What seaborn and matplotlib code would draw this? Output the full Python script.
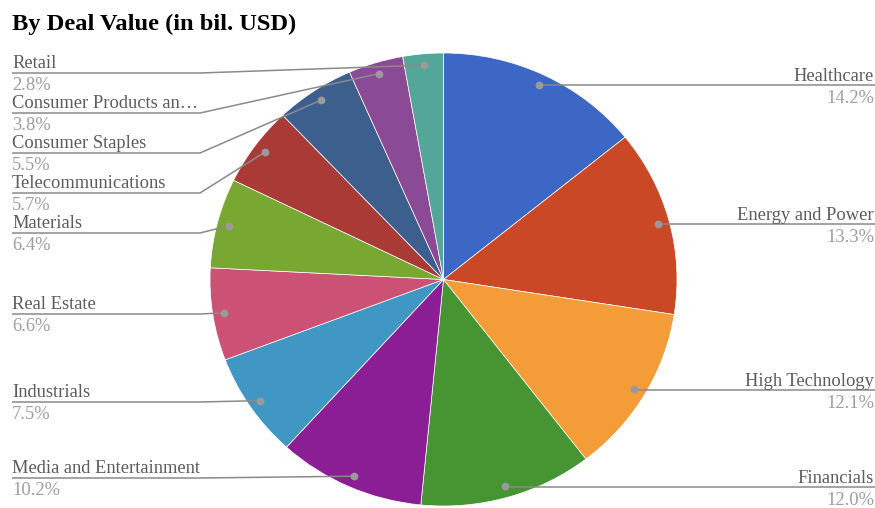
import matplotlib
matplotlib.use("Agg")
import matplotlib.pyplot as plt
import seaborn as sns
import numpy as np

categories = ["Healthcare", "Energy and Power", "High Technology", "Financials",
              "Media and Entertainment", "Industrials", "Real Estate", "Materials",
              "Telecommunications", "Consumer Staples", "Consumer Products an\u2026", "Retail"]
shares = [14.2, 13.3, 12.1, 12.0, 10.2, 7.5, 6.6, 6.4, 5.7, 5.5, 3.8, 2.8]
pct_labels = ["14.2%", "13.3%", "12.1%", "12.0%", "10.2%", "7.5%", "6.6%", "6.4%",
              "5.7%", "5.5%", "3.8%", "2.8%"]
slice_colors = ["#3c67c5", "#cb4827", "#f39c38", "#479432", "#8b1e95", "#4197c4",
                "#cc5275", "#78a832", "#a93a36", "#3d5f8e", "#8b4a95", "#53a698"]
title = "By Deal Value (in bil. USD)"

# layout: label line y (pixels) and side
label_side = ["R", "R", "R", "R", "L", "L", "L", "L", "L", "L", "L", "L"]
label_line_y = [85, 224, 390, 487, 478, 402, 314, 233, 193, 153, 113, 73]

sns.set_theme(style="white")
plt.rcParams["font.family"] = ["Liberation Serif", "DejaVu Serif"]

W, H = 875, 508
fig = plt.figure(figsize=(W / 100, H / 100), dpi=100)
fig.patch.set_facecolor("white")

# pie axes positioned to cover the pie's bounding box
left, right, top, bottom = 210, 677, 53, 506
ax = fig.add_axes([left / W, 1 - bottom / H, (right - left) / W, (bottom - top) / H])
palette = sns.color_palette(slice_colors)
wedges, _ = ax.pie(shares, colors=palette, startangle=90, counterclock=False, radius=1,
                   wedgeprops=dict(edgecolor="white", linewidth=0.5))
ax.set_aspect("auto")
ax.set_xlim(-1, 1)
ax.set_ylim(-1, 1)
ax.axis("off")

# overlay in pixel coordinates
ov = fig.add_axes([0, 0, 1, 1])
ov.set_xlim(0, W)
ov.set_ylim(H, 0)
ov.axis("off")

line_c = "#8a8a8a"
name_c = "#5c5c5c"
pct_c = "#9e9e9e"
fs = 13.3

for w, name, pct, side, ly in zip(wedges, categories, pct_labels, label_side, label_line_y):
    mid = np.deg2rad((w.theta1 + w.theta2) / 2)
    disp = ax.transData.transform((0.95 * np.cos(mid), 0.95 * np.sin(mid)))
    dx, dy = ov.transData.inverted().transform(disp)
    if side == "L":
        bend = min(200, dx)
        ov.plot([12, bend, dx], [ly, ly, dy], color=line_c, lw=1.1, solid_capstyle="butt", zorder=3)
        ov.text(12, ly - 5, name, color=name_c, fontsize=fs, ha="left", va="baseline")
        ov.text(12, ly + 17, pct, color=pct_c, fontsize=fs, ha="left", va="baseline")
    else:
        ov.plot([dx, dx + 5, 875], [dy, ly, ly], color=line_c, lw=1.1, solid_capstyle="butt", zorder=3)
        ov.text(874, ly - 4, name, color=name_c, fontsize=fs, ha="right", va="baseline")
        ov.text(874, ly + 18, pct, color=pct_c, fontsize=fs, ha="right", va="baseline")
    ov.plot([dx], [dy], marker="o", ms=4.6, color="#9a9a9a", mec="#9a9a9a", zorder=4)

ov.text(12, 30, title, color="black", fontsize=17.6, fontweight="bold", ha="left", va="baseline")

fig.savefig("out.png", dpi=100)
